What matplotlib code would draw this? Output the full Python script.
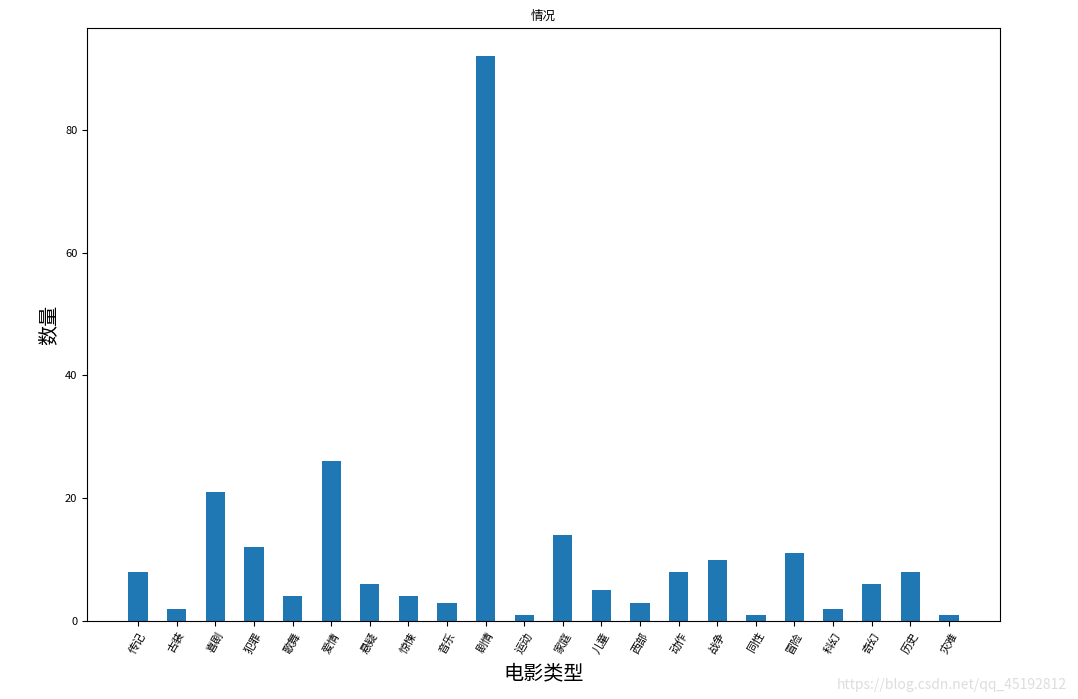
import matplotlib.pyplot as plt

plt.rcParams['font.family'] = ['Noto Sans CJK SC', 'DejaVu Sans']
plt.rcParams['axes.unicode_minus'] = False

genres = ['传记', '古装', '喜剧', '犯罪', '歌舞', '爱情', '悬疑', '惊悚', '音乐', '剧情', '运动',
          '家庭', '儿童', '西部', '动作', '战争', '同性', '冒险', '科幻', '奇幻', '历史', '灾难']
counts = [8, 2, 21, 12, 4, 26, 6, 4, 3, 92, 1, 14, 5, 3, 8, 10, 1, 11, 2, 6, 8, 1]

fig = plt.figure(figsize=(10.78, 6.99), dpi=100)
ax = fig.add_axes([0.0807, 0.1116, 0.847, 0.8484])

x = range(len(genres))
ax.bar(x, counts, width=0.5, color='#1f77b4')
ax.set_xticks(list(x))
ax.set_xticklabels(genres, rotation=60, fontsize=8)
ax.tick_params(axis='y', labelsize=8)
ax.set_yticks([0, 20, 40, 60, 80])

ax.set_title('情况', fontsize=9)
ax.set_xlabel('电影类型', fontsize=14.5, labelpad=6)
ax.set_ylabel('数量', fontsize=14.5, labelpad=4)

fig.text(0.99, 0.01, 'https://blog.csdn.net/qq_45192812', ha='right', va='bottom',
         fontsize=10, color='#dddddd')

fig.savefig('out.png', dpi=100)
